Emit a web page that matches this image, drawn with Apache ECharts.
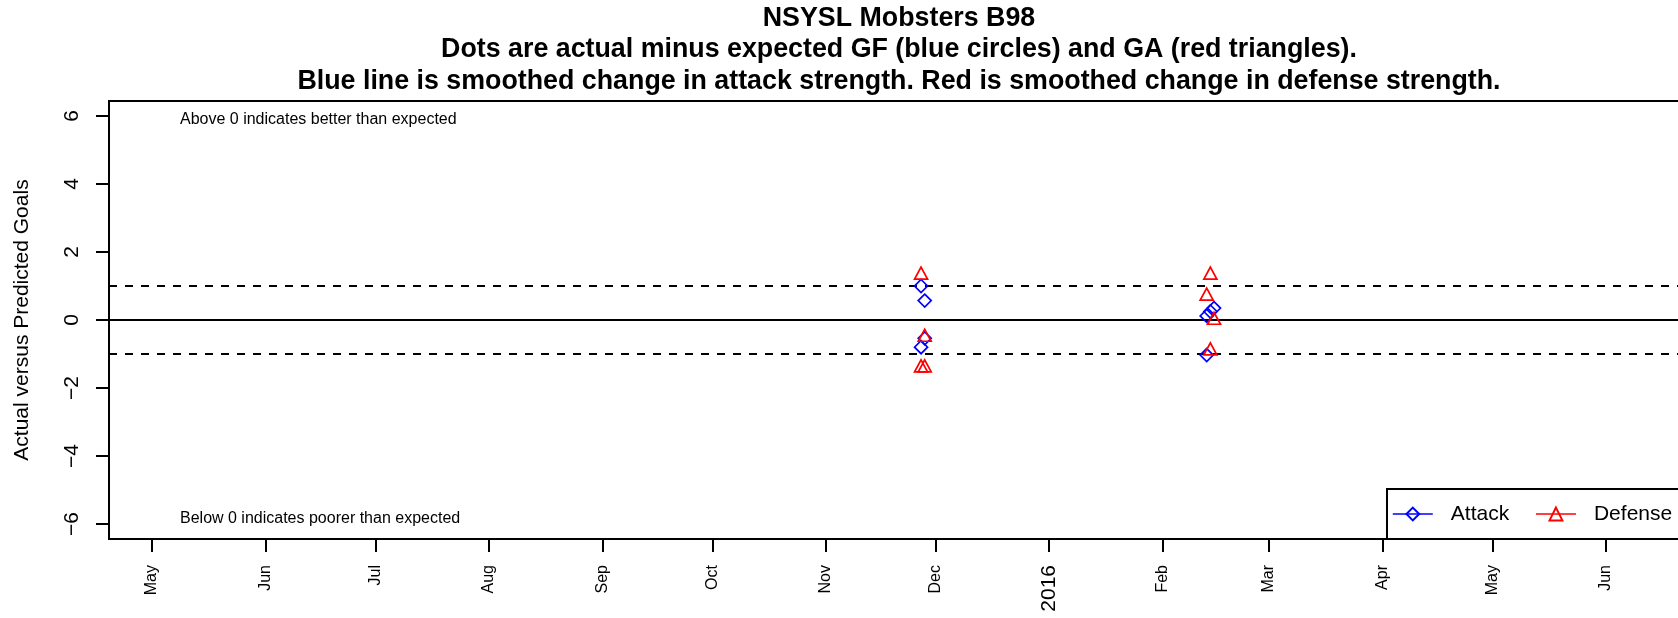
<!DOCTYPE html>
<html><head><meta charset="utf-8">
<script src="https://cdn.jsdelivr.net/npm/echarts@6/dist/echarts.min.js"></script>
<style>html,body{margin:0;padding:0;background:#fff;overflow:hidden;width:1678px;height:618px}#c{width:1700px;height:618px}</style>
</head><body><div id="c"></div>
<script>
// ---- data ----
const tickDates = ['2015-05-01','2015-06-01','2015-07-01','2015-08-01','2015-09-01','2015-10-01','2015-11-01','2015-12-01','2016-01-01','2016-02-01','2016-03-01','2016-04-01','2016-05-01','2016-06-01'];
const tickLabels = ['May','Jun','Jul','Aug','Sep','Oct','Nov','Dec','2016','Feb','Mar','Apr','May','Jun'];
const yTicks = [-6, -4, -2, 0, 2, 4, 6];
const attackDates  = ['2015-11-27','2015-11-28','2015-11-28','2015-11-27','2016-02-13','2016-02-14','2016-02-15','2016-02-13'];
const attackValues = [1.0, 0.57, -0.54, -0.8, 0.12, 0.25, 0.35, -1.03];
const defenseDates  = ['2015-11-27','2015-11-28','2015-11-27','2015-11-28','2016-02-14','2016-02-13','2016-02-15','2016-02-14'];
const defenseValues = [1.38, -0.45, -1.35, -1.35, 1.38, 0.76, 0.05, -0.85];
const refLines = [0, 1, -1];
const xRange = ['2015-04-19T06:14:00Z', '2016-06-23T16:48:00Z'];
const yRange = [-6.44, 6.44];
const titleLines = ['NSYSL Mobsters B98',
  'Dots are actual minus expected GF (blue circles) and GA (red triangles).',
  'Blue line is smoothed change in attack strength. Red is smoothed change in defense strength.'];
const noteAbove = 'Above 0 indicates better than expected';
const noteBelow = 'Below 0 indicates poorer than expected';
const yTitle = 'Actual versus Predicted Goals';

// ---- build ----
const FONT = '"Liberation Sans", Arial, Helvetica, sans-serif';
const ts = s => new Date(s.length === 10 ? s + 'T00:00:00Z' : s).getTime();
const tickTs = tickDates.map(ts);
const chart = echarts.init(document.getElementById('c'), null, {renderer: 'canvas'});

const option = {
  animation: false,
  backgroundColor: '#fff',
  textStyle: {fontFamily: FONT, color: '#000'},
  grid: {left: 109, right: 11, top: 101, bottom: 79, show: true, borderColor: '#000', borderWidth: 2, backgroundColor: 'transparent'},
  xAxis: {
    type: 'value', min: ts(xRange[0]), max: ts(xRange[1]),
    axisLine: {show: true, onZero: false, lineStyle: {color: '#000', width: 2}},
    axisTick: {show: true, customValues: tickTs, length: 13, lineStyle: {color: '#000', width: 2}},
    axisLabel: {
      customValues: tickTs, rotate: 90, margin: 26, fontSize: 16, color: '#000', fontFamily: FONT,
      formatter: v => {
        const i = tickTs.indexOf(v);
        if (i < 0) return '';
        const l = tickLabels[i];
        return /^\d{4}$/.test(l) ? '{big|' + l + '}' : l;
      },
      rich: {big: {fontSize: 21, fontFamily: FONT, color: '#000'}}
    },
    splitLine: {show: false}
  },
  yAxis: {
    type: 'value', min: yRange[0], max: yRange[1],
    axisLine: {show: true, onZero: false, lineStyle: {color: '#000', width: 2}},
    axisTick: {show: true, customValues: yTicks, length: 13, lineStyle: {color: '#000', width: 2}},
    axisLabel: {
      customValues: yTicks, rotate: 90, margin: 26, fontSize: 21, color: '#000', fontFamily: FONT,
      formatter: v => v < 0 ? '\u2212' + Math.abs(v) : String(v)
    },
    splitLine: {show: false},
    name: yTitle, nameLocation: 'middle', nameRotate: 90, nameGap: 76,
    nameTextStyle: {fontSize: 21, color: '#000', fontFamily: FONT}
  },
  legend: {
    left: 1387, top: 489, orient: 'horizontal',
    padding: [13, 19, 13, 5], itemWidth: 40, itemHeight: 16, itemGap: 26,
    borderColor: '#000', borderWidth: 2, backgroundColor: '#fff',
    selectedMode: false,
    textStyle: {fontSize: 21, color: '#000', fontFamily: FONT, padding: [0, 0, 0, 13], lineHeight: 24},
    lineStyle: {opacity: 1, width: 1.6},
    data: ['Attack', 'Defense']
  },
  graphic: [
    ...titleLines.map((t, i) => ({
      type: 'text', silent: true,
      style: {text: t, x: 899, y: 18.5 + i * 31.5, align: 'center', verticalAlign: 'middle',
        font: 'bold 26.8px ' + FONT, fill: '#000'}
    })),
    {type: 'text', silent: true, style: {text: noteAbove, x: 180, y: 119.5, align: 'left', verticalAlign: 'middle', font: '16px ' + FONT, fill: '#000'}},
    {type: 'text', silent: true, style: {text: noteBelow, x: 180, y: 519, align: 'left', verticalAlign: 'middle', font: '16px ' + FONT, fill: '#000'}}
  ],
  series: [
    {
      name: 'Attack', type: 'line', z: 5,
      data: attackDates.map((d, i) => [ts(d), attackValues[i]]),
      symbol: 'diamond', symbolSize: [13, 13], showSymbol: true,
      itemStyle: {color: 'rgba(0,0,0,0)', borderColor: '#0000ff', borderWidth: 1.7},
      lineStyle: {color: '#0000ff', opacity: 0, width: 1.6},
      emphasis: {disabled: true},
      markLine: {
        silent: true, symbol: 'none', label: {show: false}, z: 2,
        data: refLines.map(v => ({yAxis: v, lineStyle: {color: '#000', width: 2, type: v === 0 ? 'solid' : [8, 8]}}))
      }
    },
    {
      name: 'Defense', type: 'line', z: 6,
      data: defenseDates.map((d, i) => [ts(d), defenseValues[i]]),
      symbol: 'triangle', symbolSize: [13, 12], showSymbol: true,
      itemStyle: {color: 'rgba(0,0,0,0)', borderColor: '#ff0000', borderWidth: 1.7},
      lineStyle: {color: '#ff0000', opacity: 0, width: 1.6},
      emphasis: {disabled: true}
    }
  ]
};
chart.setOption(option);
</script></body></html>
